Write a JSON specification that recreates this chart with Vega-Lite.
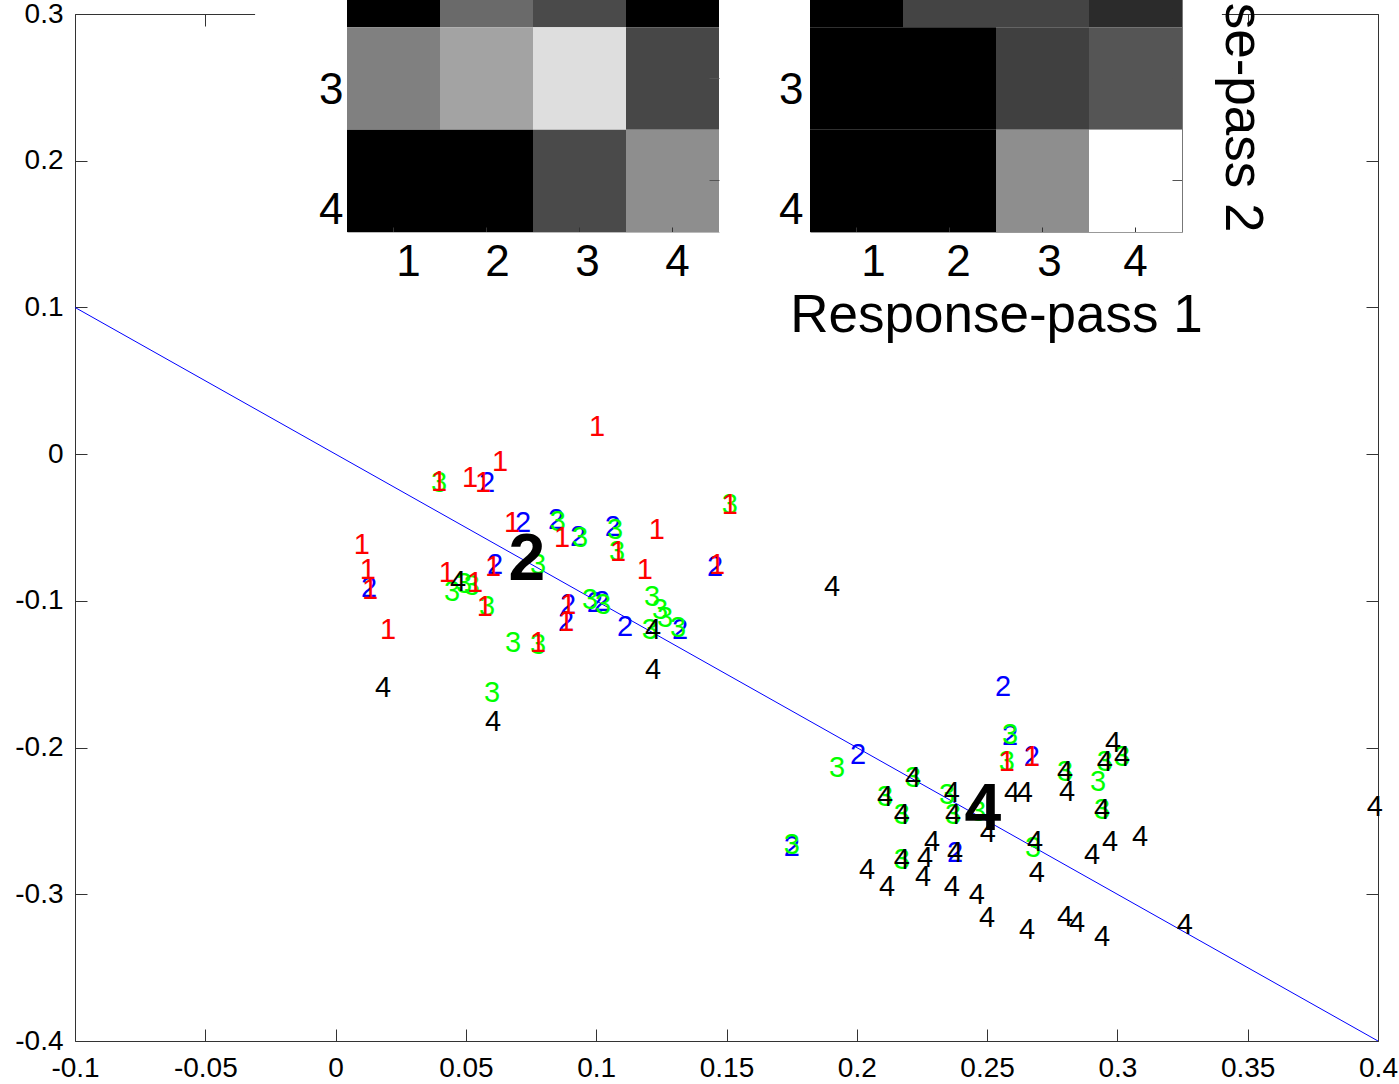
{
  "$schema": "https://vega.github.io/schema/vega-lite/v6.json",
  "width": 1303,
  "height": 1027,
  "autosize": {"type": "none"},
  "padding": {"left": 75, "top": 14, "right": 21, "bottom": 43},
  "background": "white",
  "config": {
    "view": {"stroke": "#333333", "strokeWidth": 1},
    "axis": {"labelFont": "Liberation Sans", "titleFont": "Liberation Sans", "grid": false}
  },
  "datasets": {
    "fit": [{"x": -0.1, "y": 0.1}, {"x": 0.4, "y": -0.4}],
    "centroids": [{"label": "2", "x": 0.0734, "y": -0.0722}, {"label": "4", "x": 0.2484, "y": -0.2426}],
    "points": [
      {"label": "2", "x": 0.0581, "y": -0.0197},
      {"label": "2", "x": 0.0719, "y": -0.0469},
      {"label": "2", "x": 0.0846, "y": -0.0449},
      {"label": "2", "x": 0.0128, "y": -0.0912},
      {"label": "2", "x": 0.0612, "y": -0.0756},
      {"label": "2", "x": 0.0930, "y": -0.0565},
      {"label": "2", "x": 0.1064, "y": -0.0497},
      {"label": "2", "x": 0.1456, "y": -0.0769},
      {"label": "2", "x": 0.0892, "y": -0.1028},
      {"label": "2", "x": 0.0884, "y": -0.1144},
      {"label": "2", "x": 0.0995, "y": -0.1015},
      {"label": "2", "x": 0.1022, "y": -0.1008},
      {"label": "2", "x": 0.1111, "y": -0.1178},
      {"label": "2", "x": 0.1322, "y": -0.1199},
      {"label": "2", "x": 0.2561, "y": -0.1587},
      {"label": "2", "x": 0.2005, "y": -0.2051},
      {"label": "2", "x": 0.1751, "y": -0.2678},
      {"label": "2", "x": 0.2377, "y": -0.2719},
      {"label": "2", "x": 0.2588, "y": -0.1921},
      {"label": "2", "x": 0.2672, "y": -0.2064},
      {"label": "3", "x": 0.0397, "y": -0.0197},
      {"label": "3", "x": 0.0853, "y": -0.0463},
      {"label": "3", "x": 0.0447, "y": -0.0940},
      {"label": "3", "x": 0.0493, "y": -0.0885},
      {"label": "3", "x": 0.0523, "y": -0.0899},
      {"label": "3", "x": 0.0581, "y": -0.1042},
      {"label": "3", "x": 0.0777, "y": -0.0756},
      {"label": "3", "x": 0.0681, "y": -0.1287},
      {"label": "3", "x": 0.0777, "y": -0.1301},
      {"label": "3", "x": 0.0600, "y": -0.1628},
      {"label": "3", "x": 0.1513, "y": -0.0347},
      {"label": "3", "x": 0.0938, "y": -0.0572},
      {"label": "3", "x": 0.1072, "y": -0.0517},
      {"label": "3", "x": 0.1080, "y": -0.0667},
      {"label": "3", "x": 0.0976, "y": -0.0994},
      {"label": "3", "x": 0.1026, "y": -0.1028},
      {"label": "3", "x": 0.1214, "y": -0.0974},
      {"label": "3", "x": 0.1245, "y": -0.1062},
      {"label": "3", "x": 0.1264, "y": -0.1117},
      {"label": "3", "x": 0.1206, "y": -0.1199},
      {"label": "3", "x": 0.1314, "y": -0.1185},
      {"label": "3", "x": 0.1924, "y": -0.2139},
      {"label": "3", "x": 0.1751, "y": -0.2664},
      {"label": "3", "x": 0.2108, "y": -0.2337},
      {"label": "3", "x": 0.2173, "y": -0.2460},
      {"label": "3", "x": 0.2216, "y": -0.2208},
      {"label": "3", "x": 0.2346, "y": -0.2323},
      {"label": "3", "x": 0.2369, "y": -0.2460},
      {"label": "3", "x": 0.2173, "y": -0.2766},
      {"label": "3", "x": 0.2588, "y": -0.1914},
      {"label": "3", "x": 0.2576, "y": -0.2098},
      {"label": "3", "x": 0.2799, "y": -0.2167},
      {"label": "3", "x": 0.2952, "y": -0.2098},
      {"label": "3", "x": 0.3018, "y": -0.2064},
      {"label": "3", "x": 0.2926, "y": -0.2235},
      {"label": "3", "x": 0.2941, "y": -0.2426},
      {"label": "3", "x": 0.2676, "y": -0.2685},
      {"label": "3", "x": 0.2465, "y": -0.2440},
      {"label": "1", "x": 0.1003, "y": 0.0185},
      {"label": "1", "x": 0.0631, "y": -0.0054},
      {"label": "1", "x": 0.0397, "y": -0.0190},
      {"label": "1", "x": 0.0516, "y": -0.0163},
      {"label": "1", "x": 0.0566, "y": -0.0197},
      {"label": "1", "x": 0.0677, "y": -0.0469},
      {"label": "1", "x": 0.0101, "y": -0.0619},
      {"label": "1", "x": 0.0124, "y": -0.0790},
      {"label": "1", "x": 0.0132, "y": -0.0926},
      {"label": "1", "x": 0.0201, "y": -0.1199},
      {"label": "1", "x": 0.0427, "y": -0.0810},
      {"label": "1", "x": 0.0535, "y": -0.0878},
      {"label": "1", "x": 0.0573, "y": -0.1042},
      {"label": "1", "x": 0.0604, "y": -0.0769},
      {"label": "1", "x": 0.0777, "y": -0.1287},
      {"label": "1", "x": 0.1513, "y": -0.0347},
      {"label": "1", "x": 0.0869, "y": -0.0572},
      {"label": "1", "x": 0.1084, "y": -0.0667},
      {"label": "1", "x": 0.1233, "y": -0.0517},
      {"label": "1", "x": 0.1187, "y": -0.0790},
      {"label": "1", "x": 0.1464, "y": -0.0756},
      {"label": "1", "x": 0.0892, "y": -0.1028},
      {"label": "1", "x": 0.0884, "y": -0.1144},
      {"label": "1", "x": 0.2576, "y": -0.2098},
      {"label": "1", "x": 0.2672, "y": -0.2064},
      {"label": "4", "x": 0.0470, "y": -0.0872},
      {"label": "4", "x": 0.0182, "y": -0.1594},
      {"label": "4", "x": 0.0604, "y": -0.1826},
      {"label": "4", "x": 0.1218, "y": -0.1199},
      {"label": "4", "x": 0.1218, "y": -0.1471},
      {"label": "4", "x": 0.1905, "y": -0.0906},
      {"label": "4", "x": 0.2108, "y": -0.2337},
      {"label": "4", "x": 0.2173, "y": -0.2460},
      {"label": "4", "x": 0.2216, "y": -0.2208},
      {"label": "4", "x": 0.2365, "y": -0.2310},
      {"label": "4", "x": 0.2369, "y": -0.2460},
      {"label": "4", "x": 0.2503, "y": -0.2582},
      {"label": "4", "x": 0.2289, "y": -0.2644},
      {"label": "4", "x": 0.2377, "y": -0.2719},
      {"label": "4", "x": 0.2173, "y": -0.2766},
      {"label": "4", "x": 0.2262, "y": -0.2753},
      {"label": "4", "x": 0.2254, "y": -0.2882},
      {"label": "4", "x": 0.2039, "y": -0.2835},
      {"label": "4", "x": 0.2116, "y": -0.2951},
      {"label": "4", "x": 0.2365, "y": -0.2951},
      {"label": "4", "x": 0.2461, "y": -0.3005},
      {"label": "4", "x": 0.2500, "y": -0.3162},
      {"label": "4", "x": 0.2596, "y": -0.2310},
      {"label": "4", "x": 0.2645, "y": -0.2310},
      {"label": "4", "x": 0.2799, "y": -0.2167},
      {"label": "4", "x": 0.2807, "y": -0.2303},
      {"label": "4", "x": 0.2952, "y": -0.2098},
      {"label": "4", "x": 0.2983, "y": -0.1969},
      {"label": "4", "x": 0.3018, "y": -0.2064},
      {"label": "4", "x": 0.2941, "y": -0.2426},
      {"label": "4", "x": 0.2684, "y": -0.2644},
      {"label": "4", "x": 0.2691, "y": -0.2855},
      {"label": "4", "x": 0.2903, "y": -0.2732},
      {"label": "4", "x": 0.2972, "y": -0.2644},
      {"label": "4", "x": 0.3087, "y": -0.2610},
      {"label": "4", "x": 0.2799, "y": -0.3155},
      {"label": "4", "x": 0.2845, "y": -0.3196},
      {"label": "4", "x": 0.2653, "y": -0.3244},
      {"label": "4", "x": 0.2941, "y": -0.3291},
      {"label": "4", "x": 0.3259, "y": -0.3209},
      {"label": "4", "x": 0.3988, "y": -0.2405}
    ],
    "left": [
      {"row": 2, "col": 1, "v": 0.0}, {"row": 2, "col": 2, "v": 0.416}, {"row": 2, "col": 3, "v": 0.29}, {"row": 2, "col": 4, "v": 0.0},
      {"row": 3, "col": 1, "v": 0.502}, {"row": 3, "col": 2, "v": 0.639}, {"row": 3, "col": 3, "v": 0.871}, {"row": 3, "col": 4, "v": 0.278},
      {"row": 4, "col": 1, "v": 0.0}, {"row": 4, "col": 2, "v": 0.0}, {"row": 4, "col": 3, "v": 0.29}, {"row": 4, "col": 4, "v": 0.557}
    ],
    "right": [
      {"row": 2, "col": 1, "v": 0.0}, {"row": 2, "col": 2, "v": 0.267}, {"row": 2, "col": 3, "v": 0.267}, {"row": 2, "col": 4, "v": 0.169},
      {"row": 3, "col": 1, "v": 0.0}, {"row": 3, "col": 2, "v": 0.0}, {"row": 3, "col": 3, "v": 0.251}, {"row": 3, "col": 4, "v": 0.333},
      {"row": 4, "col": 1, "v": 0.0}, {"row": 4, "col": 2, "v": 0.0}, {"row": 4, "col": 3, "v": 0.557}, {"row": 4, "col": 4, "v": 1.0}
    ]
  },
  "layer": [
    {
      "layer": [
        {
          "data": {"values": [{}]},
          "mark": {"type": "rect", "fill": "white", "stroke": null},
          "encoding": {
            "x": {"datum": -0.0309, "type": "quantitative", "scale": {"domain": [-0.1, 0.4], "nice": false, "zero": false}},
            "x2": {"datum": 0.3401},
            "y": {"datum": 0.3096, "type": "quantitative", "scale": {"domain": [-0.4, 0.3], "nice": false, "zero": false}},
            "y2": {"datum": 0.112}
          }
        },
        {
          "data": {"name": "fit"},
          "mark": {"type": "line", "color": "#0000ff", "strokeWidth": 1},
          "encoding": {
            "x": {"field": "x", "type": "quantitative", "scale": {"domain": [-0.1, 0.4], "nice": false, "zero": false}},
            "y": {"field": "y", "type": "quantitative", "scale": {"domain": [-0.4, 0.3], "nice": false, "zero": false}}
          }
        },
        {
          "data": {"name": "points"},
          "mark": {"type": "text", "font": "Liberation Sans", "fontSize": 29, "align": "center", "baseline": "middle"},
          "encoding": {
            "x": {
              "field": "x", "type": "quantitative",
              "scale": {"domain": [-0.1, 0.4], "nice": false, "zero": false},
              "axis": {
                "orient": "bottom", "values": [-0.1, -0.05, 0, 0.05, 0.1, 0.15, 0.2, 0.25, 0.3, 0.35, 0.4],
                "labelExpr": "toString(datum.value)", "domain": false, "tickSize": -12, "tickColor": "#333333",
                "labelPadding": 25, "labelFontSize": 28, "labelColor": "black", "labelFlush": false,
                "labelOverlap": false, "labelBound": false, "title": null
              }
            },
            "y": {
              "field": "y", "type": "quantitative",
              "scale": {"domain": [-0.4, 0.3], "nice": false, "zero": false},
              "axis": {
                "orient": "left", "values": [-0.4, -0.3, -0.2, -0.1, 0, 0.1, 0.2, 0.3],
                "labelExpr": "toString(datum.value)", "domain": false, "tickSize": -12, "tickColor": "#333333",
                "labelPadding": 24, "labelFontSize": 28, "labelColor": "black", "labelFlush": false,
                "labelOverlap": false, "labelBound": false, "title": null
              }
            },
            "text": {"field": "label", "type": "nominal"},
            "color": {
              "field": "label", "type": "nominal",
              "scale": {"domain": ["1", "2", "3", "4"], "range": ["#ff0000", "#0000ff", "#00ff00", "#000000"]},
              "legend": null
            }
          }
        },
        {
          "data": {"name": "centroids"},
          "mark": {"type": "text", "font": "Liberation Sans", "fontSize": 66, "fontWeight": "bold", "align": "center", "baseline": "middle", "color": "black"},
          "encoding": {
            "x": {"field": "x", "type": "quantitative"},
            "y": {"field": "y", "type": "quantitative"},
            "text": {"field": "label", "type": "nominal"}
          }
        }
      ]
    },
    {
      "data": {"name": "fit"},
      "mark": {"type": "point", "opacity": 0},
      "encoding": {
        "x": {
          "field": "x", "type": "quantitative",
          "scale": {"domain": [-0.1, 0.4], "nice": false, "zero": false},
          "axis": {"orient": "top", "values": [-0.1, -0.05, 0, 0.05, 0.1, 0.15, 0.2, 0.25, 0.3, 0.35, 0.4], "labels": false, "domain": false, "tickSize": -12, "tickColor": "#333333", "title": null}
        },
        "y": {
          "field": "y", "type": "quantitative",
          "scale": {"domain": [-0.4, 0.3], "nice": false, "zero": false},
          "axis": {"orient": "right", "values": [-0.4, -0.3, -0.2, -0.1, 0, 0.1, 0.2, 0.3], "labels": false, "domain": false, "tickSize": -12, "tickColor": "#333333", "title": null}
        }
      }
    },
    {
      "data": {"name": "left"},
      "mark": {"type": "rect"},
      "encoding": {
        "x": {
          "field": "col", "type": "ordinal",
          "scale": {"domain": [1, 2, 3, 4], "range": [272, 644], "paddingInner": 0, "paddingOuter": 0},
          "axis": {
            "orient": "bottom", "offset": -809, "labelFontSize": 44, "labelColor": "black", "labelAngle": 0,
            "labelOffset": {"condition": [{"test": "datum.value == 1", "value": 15}, {"test": "datum.value == 2", "value": 11}, {"test": "datum.value == 3", "value": 8}], "value": 5},
            "labelPadding": 13, "tickSize": -5, "tickColor": "#333333", "domainColor": "#bbbbbb", "title": null, "zindex": 1
          }
        },
        "y": {
          "field": "row", "type": "ordinal",
          "scale": {"domain": [2, 3, 4], "range": [-89, 218], "paddingInner": 0, "paddingOuter": 0},
          "axis": {
            "orient": "left", "offset": -272, "values": [3, 4], "ticks": false, "domain": false, "labelFontSize": 44, "labelColor": "black", "labelPadding": 4,
            "labelOffset": {"condition": {"test": "datum.value == 3", "value": 12}, "value": 30},
            "title": null, "zindex": 1
          }
        },
        "color": {"field": "v", "type": "quantitative", "scale": {"domain": [0, 1], "range": ["#000000", "#ffffff"], "interpolate": "rgb"}, "legend": null}
      }
    },
    {
      "data": {"name": "left"},
      "mark": {"type": "rect", "opacity": 0},
      "encoding": {
        "x": {"field": "col", "type": "ordinal", "scale": {"domain": [1, 2, 3, 4], "range": [272, 644], "paddingInner": 0, "paddingOuter": 0}, "axis": null},
        "y": {
          "field": "row", "type": "ordinal",
          "scale": {"domain": [2, 3, 4], "range": [-89, 218], "paddingInner": 0, "paddingOuter": 0},
          "axis": {"orient": "right", "offset": -659, "values": [3, 4], "labels": false, "domain": false, "tickSize": -10, "tickColor": "#555555", "title": null, "zindex": 1}
        }
      }
    },
    {
      "data": {"name": "right"},
      "mark": {"type": "rect"},
      "encoding": {
        "x": {
          "field": "col", "type": "ordinal",
          "scale": {"domain": [1, 2, 3, 4], "range": [735, 1107], "paddingInner": 0, "paddingOuter": 0},
          "axis": {
            "orient": "bottom", "offset": -809, "labelFontSize": 44, "labelColor": "black", "labelAngle": 0,
            "labelOffset": {"condition": [{"test": "datum.value == 1", "value": 17}, {"test": "datum.value == 2", "value": 9}, {"test": "datum.value == 3", "value": 7}], "value": 0},
            "labelPadding": 13, "tickSize": -5, "tickColor": "#333333", "domainColor": "#999999",
            "title": "Response-pass 1", "titleFontSize": 53, "titleFontWeight": "normal", "titleColor": "black", "titlePadding": 5, "zindex": 1
          }
        },
        "y": {
          "field": "row", "type": "ordinal",
          "scale": {"domain": [2, 3, 4], "range": [-89, 218], "paddingInner": 0, "paddingOuter": 0},
          "axis": {
            "orient": "left", "offset": -735, "values": [3, 4], "ticks": false, "domain": false, "labelFontSize": 44, "labelColor": "black", "labelPadding": 7,
            "labelOffset": {"condition": {"test": "datum.value == 3", "value": 12}, "value": 30},
            "title": null, "zindex": 1
          }
        },
        "color": {"field": "v", "type": "quantitative", "scale": {"domain": [0, 1], "range": ["#000000", "#ffffff"], "interpolate": "rgb"}, "legend": null}
      }
    },
    {
      "data": {"name": "right"},
      "mark": {"type": "rect", "opacity": 0},
      "encoding": {
        "x": {"field": "col", "type": "ordinal", "scale": {"domain": [1, 2, 3, 4], "range": [735, 1107], "paddingInner": 0, "paddingOuter": 0}, "axis": null},
        "y": {
          "field": "row", "type": "ordinal",
          "scale": {"domain": [2, 3, 4], "range": [-89, 218], "paddingInner": 0, "paddingOuter": 0},
          "axis": {"orient": "right", "offset": -196, "values": [3, 4], "labels": false, "domain": true, "domainColor": "#777777", "tickSize": -10, "tickColor": "#555555", "title": "Response-pass 2", "titleAngle": 90, "titleAnchor": "end", "titleFontSize": 53, "titleFontWeight": "normal", "titleColor": "black", "titlePadding": 32, "zindex": 1}
        }
      }
    }
  ],
  "resolve": {
    "scale": {"x": "independent", "y": "independent", "color": "independent"},
    "axis": {"x": "independent", "y": "independent"}
  }
}
